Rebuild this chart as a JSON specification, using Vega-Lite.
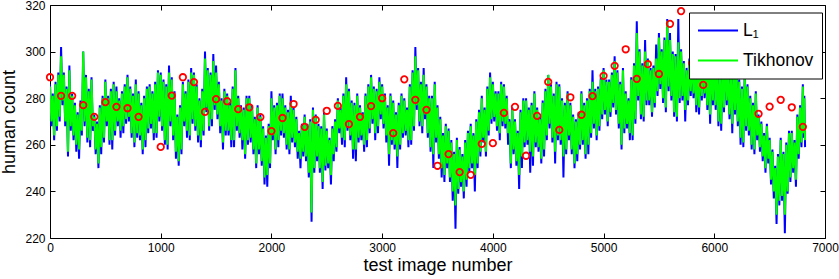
{
"$schema": "https://vega.github.io/schema/vega-lite/v6.json",
"autosize": "none",
"width": 775,
"height": 233,
"padding": {"left": 50, "top": 5, "right": 14, "bottom": 41},
"background": "white",
"config": {
  "font": "Liberation Sans",
  "view": {"stroke": "black", "strokeWidth": 1},
  "axis": {"grid": false, "domain": false, "domainColor": "black", "tickColor": "black", "labelColor": "black", "titleColor": "black", "labelFont": "Liberation Sans", "titleFont": "Liberation Sans", "labelFontSize": 12, "titleFontSize": 18, "titleFontWeight": "normal", "format": "d"}
},
"datasets": {
"series": [
{"x":0,"a":286,"b":285},{"x":12.5,"a":268,"b":270},{"x":25,"a":282,"b":281},{"x":37.5,"a":262,"b":264},
{"x":50,"a":287,"b":286},{"x":62.5,"a":266,"b":268},{"x":75,"a":291,"b":290},{"x":87.5,"a":270,"b":272},
{"x":100,"a":302,"b":298},{"x":112.5,"a":277,"b":279},{"x":125,"a":291,"b":290},{"x":137.5,"a":268,"b":270},
{"x":150,"a":285,"b":284},{"x":162.5,"a":255,"b":257},{"x":175,"a":294,"b":292},{"x":187.5,"a":266,"b":268},
{"x":200,"a":282,"b":281},{"x":212.5,"a":262,"b":264},{"x":225,"a":278,"b":277},{"x":237.5,"a":257,"b":260},
{"x":250,"a":274,"b":273},{"x":262.5,"a":254,"b":258},{"x":275,"a":279,"b":278},{"x":287.5,"a":264,"b":266},
{"x":300,"a":300,"b":300},{"x":312.5,"a":268,"b":270},{"x":325,"a":290,"b":289},{"x":337.5,"a":261,"b":263},
{"x":350,"a":284,"b":283},{"x":362.5,"a":259,"b":262},{"x":375,"a":289,"b":288},{"x":387.5,"a":266,"b":268},
{"x":400,"a":273,"b":272},{"x":412.5,"a":256,"b":258},{"x":425,"a":270,"b":269},{"x":437.5,"a":250,"b":252},
{"x":450,"a":277,"b":276},{"x":462.5,"a":256,"b":259},{"x":475,"a":281,"b":280},{"x":487.5,"a":261,"b":263},
{"x":500,"a":288,"b":287},{"x":512.5,"a":268,"b":270},{"x":525,"a":281,"b":280},{"x":537.5,"a":260,"b":262},
{"x":550,"a":284,"b":283},{"x":562.5,"a":258,"b":262},{"x":575,"a":287,"b":286},{"x":587.5,"a":264,"b":266},
{"x":600,"a":285,"b":283},{"x":612.5,"a":268,"b":270},{"x":625,"a":280,"b":279},{"x":637.5,"a":263,"b":266},
{"x":650,"a":283,"b":282},{"x":662.5,"a":265,"b":268},{"x":675,"a":286,"b":285},{"x":687.5,"a":269,"b":271},
{"x":700,"a":290,"b":289},{"x":712.5,"a":270,"b":272},{"x":725,"a":285,"b":284},{"x":737.5,"a":263,"b":265},
{"x":750,"a":282,"b":281},{"x":762.5,"a":259,"b":261},{"x":775,"a":288,"b":286},{"x":787.5,"a":263,"b":265},
{"x":800,"a":283,"b":282},{"x":812.5,"a":262,"b":264},{"x":825,"a":278,"b":277},{"x":837.5,"a":256,"b":258},
{"x":850,"a":281,"b":280},{"x":862.5,"a":259,"b":262},{"x":875,"a":285,"b":284},{"x":887.5,"a":265,"b":267},
{"x":900,"a":286,"b":285},{"x":912.5,"a":267,"b":269},{"x":925,"a":283,"b":282},{"x":937.5,"a":262,"b":265},
{"x":950,"a":287,"b":286},{"x":962.5,"a":263,"b":265},{"x":975,"a":292,"b":291},{"x":987.5,"a":270,"b":272},
{"x":1000,"a":291,"b":290},{"x":1012.5,"a":266,"b":268},{"x":1025,"a":288,"b":287},{"x":1037.5,"a":260,"b":262},
{"x":1050,"a":286,"b":285},{"x":1062.5,"a":258,"b":260},{"x":1075,"a":294,"b":291},{"x":1087.5,"a":268,"b":270},
{"x":1100,"a":289,"b":288},{"x":1112.5,"a":262,"b":264},{"x":1125,"a":283,"b":282},{"x":1137.5,"a":254,"b":257},
{"x":1150,"a":273,"b":272},{"x":1162.5,"a":251,"b":253},{"x":1175,"a":277,"b":276},{"x":1187.5,"a":256,"b":258},
{"x":1200,"a":287,"b":286},{"x":1212.5,"a":268,"b":270},{"x":1225,"a":283,"b":282},{"x":1237.5,"a":263,"b":266},
{"x":1250,"a":288,"b":287},{"x":1262.5,"a":262,"b":264},{"x":1275,"a":293,"b":291},{"x":1287.5,"a":269,"b":271},
{"x":1300,"a":291,"b":290},{"x":1312.5,"a":266,"b":268},{"x":1325,"a":286,"b":285},{"x":1337.5,"a":261,"b":264},
{"x":1350,"a":280,"b":279},{"x":1362.5,"a":259,"b":262},{"x":1375,"a":284,"b":283},{"x":1387.5,"a":264,"b":266},
{"x":1400,"a":300,"b":297},{"x":1412.5,"a":274,"b":276},{"x":1425,"a":293,"b":292},{"x":1437.5,"a":266,"b":268},
{"x":1450,"a":291,"b":290},{"x":1462.5,"a":268,"b":271},{"x":1475,"a":299,"b":296},{"x":1487.5,"a":275,"b":277},
{"x":1500,"a":294,"b":291},{"x":1512.5,"a":271,"b":273},{"x":1525,"a":287,"b":286},{"x":1537.5,"a":265,"b":268},
{"x":1550,"a":280,"b":279},{"x":1562.5,"a":258,"b":261},{"x":1575,"a":284,"b":283},{"x":1587.5,"a":264,"b":266},
{"x":1600,"a":282,"b":281},{"x":1612.5,"a":264,"b":266},{"x":1625,"a":278,"b":277},{"x":1637.5,"a":259,"b":262},
{"x":1650,"a":285,"b":284},{"x":1662.5,"a":259,"b":262},{"x":1675,"a":293,"b":292},{"x":1687.5,"a":266,"b":268},
{"x":1700,"a":281,"b":280},{"x":1712.5,"a":263,"b":265},{"x":1725,"a":277,"b":276},{"x":1737.5,"a":258,"b":262},
{"x":1750,"a":276,"b":275},{"x":1762.5,"a":254,"b":256},{"x":1775,"a":281,"b":280},{"x":1787.5,"a":260,"b":262},
{"x":1800,"a":281,"b":280},{"x":1812.5,"a":261,"b":263},{"x":1825,"a":277,"b":276},{"x":1837.5,"a":256,"b":258},
{"x":1850,"a":272,"b":271},{"x":1862.5,"a":250,"b":252},{"x":1875,"a":277,"b":276},{"x":1887.5,"a":256,"b":258},
{"x":1900,"a":273,"b":272},{"x":1912.5,"a":251,"b":253},{"x":1925,"a":268,"b":267},{"x":1937.5,"a":243,"b":246},
{"x":1950,"a":264,"b":263},{"x":1962.5,"a":242,"b":247},{"x":1975,"a":269,"b":268},{"x":1987.5,"a":250,"b":252},
{"x":2000,"a":283,"b":280},{"x":2012.5,"a":262,"b":264},{"x":2025,"a":277,"b":276},{"x":2037.5,"a":256,"b":258},
{"x":2050,"a":278,"b":277},{"x":2062.5,"a":259,"b":262},{"x":2075,"a":282,"b":281},{"x":2087.5,"a":264,"b":266},
{"x":2100,"a":282,"b":280},{"x":2112.5,"a":263,"b":265},{"x":2125,"a":277,"b":276},{"x":2137.5,"a":258,"b":260},
{"x":2150,"a":275,"b":274},{"x":2162.5,"a":256,"b":258},{"x":2175,"a":281,"b":278},{"x":2187.5,"a":261,"b":263},
{"x":2200,"a":276,"b":275},{"x":2212.5,"a":259,"b":261},{"x":2225,"a":272,"b":271},{"x":2237.5,"a":254,"b":257},
{"x":2250,"a":266,"b":265},{"x":2262.5,"a":250,"b":254},{"x":2275,"a":269,"b":268},{"x":2287.5,"a":255,"b":257},
{"x":2300,"a":273,"b":272},{"x":2312.5,"a":253,"b":255},{"x":2325,"a":269,"b":268},{"x":2337.5,"a":246,"b":248},
{"x":2350,"a":271,"b":270},{"x":2362.5,"a":227,"b":231},{"x":2375,"a":276,"b":275},{"x":2387.5,"a":248,"b":250},
{"x":2400,"a":273,"b":272},{"x":2412.5,"a":253,"b":255},{"x":2425,"a":269,"b":268},{"x":2437.5,"a":248,"b":250},
{"x":2450,"a":268,"b":267},{"x":2462.5,"a":241,"b":244},{"x":2475,"a":274,"b":273},{"x":2487.5,"a":249,"b":251},
{"x":2500,"a":267,"b":266},{"x":2512.5,"a":250,"b":252},{"x":2525,"a":263,"b":262},{"x":2537.5,"a":243,"b":247},
{"x":2550,"a":268,"b":267},{"x":2562.5,"a":253,"b":256},{"x":2575,"a":271,"b":270},{"x":2587.5,"a":257,"b":259},
{"x":2600,"a":280,"b":279},{"x":2612.5,"a":265,"b":267},{"x":2625,"a":276,"b":275},{"x":2637.5,"a":260,"b":263},
{"x":2650,"a":282,"b":281},{"x":2662.5,"a":259,"b":262},{"x":2675,"a":289,"b":286},{"x":2687.5,"a":266,"b":268},
{"x":2700,"a":284,"b":283},{"x":2712.5,"a":262,"b":264},{"x":2725,"a":279,"b":278},{"x":2737.5,"a":254,"b":258},
{"x":2750,"a":278,"b":277},{"x":2762.5,"a":253,"b":258},{"x":2775,"a":282,"b":281},{"x":2787.5,"a":261,"b":263},
{"x":2800,"a":277,"b":276},{"x":2812.5,"a":262,"b":264},{"x":2825,"a":274,"b":273},{"x":2837.5,"a":257,"b":260},
{"x":2850,"a":282,"b":281},{"x":2862.5,"a":259,"b":262},{"x":2875,"a":286,"b":285},{"x":2887.5,"a":265,"b":267},
{"x":2900,"a":290,"b":289},{"x":2912.5,"a":269,"b":271},{"x":2925,"a":285,"b":284},{"x":2937.5,"a":262,"b":265},
{"x":2950,"a":284,"b":283},{"x":2962.5,"a":265,"b":268},{"x":2975,"a":289,"b":287},{"x":2987.5,"a":271,"b":273},
{"x":3000,"a":286,"b":285},{"x":3012.5,"a":267,"b":269},{"x":3025,"a":282,"b":281},{"x":3037.5,"a":261,"b":264},
{"x":3050,"a":277,"b":276},{"x":3062.5,"a":251,"b":256},{"x":3075,"a":282,"b":281},{"x":3087.5,"a":260,"b":262},
{"x":3100,"a":279,"b":278},{"x":3112.5,"a":258,"b":260},{"x":3125,"a":274,"b":273},{"x":3137.5,"a":250,"b":255},
{"x":3150,"a":278,"b":277},{"x":3162.5,"a":258,"b":260},{"x":3175,"a":282,"b":281},{"x":3187.5,"a":263,"b":265},
{"x":3200,"a":280,"b":279},{"x":3212.5,"a":264,"b":266},{"x":3225,"a":276,"b":275},{"x":3237.5,"a":259,"b":262},
{"x":3250,"a":286,"b":285},{"x":3262.5,"a":260,"b":262},{"x":3275,"a":292,"b":291},{"x":3287.5,"a":266,"b":268},
{"x":3300,"a":302,"b":298},{"x":3312.5,"a":275,"b":277},{"x":3325,"a":293,"b":292},{"x":3337.5,"a":268,"b":270},
{"x":3350,"a":287,"b":286},{"x":3362.5,"a":265,"b":268},{"x":3375,"a":293,"b":290},{"x":3387.5,"a":271,"b":273},
{"x":3400,"a":286,"b":285},{"x":3412.5,"a":263,"b":265},{"x":3425,"a":281,"b":280},{"x":3437.5,"a":257,"b":259},
{"x":3450,"a":281,"b":280},{"x":3462.5,"a":250,"b":256},{"x":3475,"a":287,"b":286},{"x":3487.5,"a":261,"b":263},
{"x":3500,"a":277,"b":276},{"x":3512.5,"a":254,"b":256},{"x":3525,"a":272,"b":271},{"x":3537.5,"a":246,"b":250},
{"x":3550,"a":265,"b":264},{"x":3562.5,"a":244,"b":247},{"x":3575,"a":269,"b":268},{"x":3587.5,"a":250,"b":252},
{"x":3600,"a":267,"b":266},{"x":3612.5,"a":244,"b":246},{"x":3625,"a":262,"b":261},{"x":3637.5,"a":236,"b":240},
{"x":3650,"a":257,"b":256},{"x":3662.5,"a":224,"b":234},{"x":3675,"a":263,"b":262},{"x":3687.5,"a":239,"b":241},
{"x":3700,"a":259,"b":258},{"x":3712.5,"a":242,"b":244},{"x":3725,"a":256,"b":255},{"x":3737.5,"a":237,"b":240},
{"x":3750,"a":262,"b":261},{"x":3762.5,"a":242,"b":245},{"x":3775,"a":266,"b":265},{"x":3787.5,"a":248,"b":250},
{"x":3800,"a":269,"b":268},{"x":3812.5,"a":250,"b":252},{"x":3825,"a":265,"b":264},{"x":3837.5,"a":240,"b":247},
{"x":3850,"a":271,"b":270},{"x":3862.5,"a":250,"b":252},{"x":3875,"a":275,"b":274},{"x":3887.5,"a":255,"b":257},
{"x":3900,"a":281,"b":280},{"x":3912.5,"a":261,"b":263},{"x":3925,"a":276,"b":275},{"x":3937.5,"a":255,"b":257},
{"x":3950,"a":285,"b":284},{"x":3962.5,"a":264,"b":266},{"x":3975,"a":291,"b":289},{"x":3987.5,"a":269,"b":271},
{"x":4000,"a":287,"b":286},{"x":4012.5,"a":270,"b":272},{"x":4025,"a":283,"b":282},{"x":4037.5,"a":266,"b":268},
{"x":4050,"a":283,"b":282},{"x":4062.5,"a":262,"b":265},{"x":4075,"a":287,"b":286},{"x":4087.5,"a":268,"b":270},
{"x":4100,"a":286,"b":285},{"x":4112.5,"a":267,"b":269},{"x":4125,"a":281,"b":280},{"x":4137.5,"a":260,"b":265},
{"x":4150,"a":271,"b":270},{"x":4162.5,"a":250,"b":252},{"x":4175,"a":276,"b":275},{"x":4187.5,"a":256,"b":258},
{"x":4200,"a":271,"b":270},{"x":4212.5,"a":251,"b":253},{"x":4225,"a":266,"b":265},{"x":4237.5,"a":241,"b":247},
{"x":4250,"a":275,"b":274},{"x":4262.5,"a":250,"b":255},{"x":4275,"a":280,"b":279},{"x":4287.5,"a":259,"b":261},
{"x":4300,"a":280,"b":279},{"x":4312.5,"a":260,"b":262},{"x":4325,"a":276,"b":275},{"x":4337.5,"a":248,"b":257},
{"x":4350,"a":278,"b":277},{"x":4362.5,"a":251,"b":255},{"x":4375,"a":283,"b":282},{"x":4387.5,"a":259,"b":261},
{"x":4400,"a":276,"b":275},{"x":4412.5,"a":257,"b":259},{"x":4425,"a":272,"b":271},{"x":4437.5,"a":252,"b":254},
{"x":4450,"a":279,"b":278},{"x":4462.5,"a":255,"b":258},{"x":4475,"a":284,"b":283},{"x":4487.5,"a":262,"b":264},
{"x":4500,"a":290,"b":290},{"x":4512.5,"a":267,"b":269},{"x":4525,"a":286,"b":285},{"x":4537.5,"a":261,"b":263},
{"x":4550,"a":282,"b":281},{"x":4562.5,"a":252,"b":257},{"x":4575,"a":287,"b":286},{"x":4587.5,"a":262,"b":264},
{"x":4600,"a":286,"b":285},{"x":4612.5,"a":260,"b":262},{"x":4625,"a":280,"b":279},{"x":4637.5,"a":246,"b":255},
{"x":4650,"a":278,"b":277},{"x":4662.5,"a":256,"b":258},{"x":4675,"a":283,"b":282},{"x":4687.5,"a":262,"b":264},
{"x":4700,"a":278,"b":277},{"x":4712.5,"a":256,"b":258},{"x":4725,"a":273,"b":272},{"x":4737.5,"a":250,"b":252},
{"x":4750,"a":271,"b":270},{"x":4762.5,"a":253,"b":256},{"x":4775,"a":274,"b":273},{"x":4787.5,"a":258,"b":260},
{"x":4800,"a":283,"b":282},{"x":4812.5,"a":260,"b":262},{"x":4825,"a":278,"b":277},{"x":4837.5,"a":254,"b":256},
{"x":4850,"a":280,"b":279},{"x":4862.5,"a":256,"b":260},{"x":4875,"a":284,"b":283},{"x":4887.5,"a":263,"b":265},
{"x":4900,"a":292,"b":287},{"x":4912.5,"a":267,"b":269},{"x":4925,"a":284,"b":283},{"x":4937.5,"a":262,"b":264},
{"x":4950,"a":285,"b":284},{"x":4962.5,"a":266,"b":268},{"x":4975,"a":289,"b":288},{"x":4987.5,"a":271,"b":273},
{"x":5000,"a":293,"b":292},{"x":5012.5,"a":273,"b":275},{"x":5025,"a":288,"b":287},{"x":5037.5,"a":268,"b":270},
{"x":5050,"a":288,"b":287},{"x":5062.5,"a":272,"b":274},{"x":5075,"a":291,"b":290},{"x":5087.5,"a":276,"b":278},
{"x":5100,"a":298,"b":296},{"x":5112.5,"a":273,"b":275},{"x":5125,"a":292,"b":291},{"x":5137.5,"a":267,"b":269},
{"x":5150,"a":287,"b":286},{"x":5162.5,"a":258,"b":260},{"x":5175,"a":293,"b":292},{"x":5187.5,"a":265,"b":267},
{"x":5200,"a":283,"b":282},{"x":5212.5,"a":267,"b":269},{"x":5225,"a":280,"b":279},{"x":5237.5,"a":262,"b":265},
{"x":5250,"a":289,"b":288},{"x":5262.5,"a":262,"b":264},{"x":5275,"a":295,"b":294},{"x":5287.5,"a":269,"b":271},
{"x":5300,"a":313,"b":308},{"x":5312.5,"a":279,"b":281},{"x":5325,"a":301,"b":300},{"x":5337.5,"a":271,"b":273},
{"x":5350,"a":295,"b":294},{"x":5362.5,"a":270,"b":272},{"x":5375,"a":305,"b":300},{"x":5387.5,"a":277,"b":279},
{"x":5400,"a":297,"b":296},{"x":5412.5,"a":277,"b":279},{"x":5425,"a":293,"b":292},{"x":5437.5,"a":272,"b":274},
{"x":5450,"a":294,"b":293},{"x":5462.5,"a":276,"b":278},{"x":5475,"a":303,"b":297},{"x":5487.5,"a":281,"b":283},
{"x":5500,"a":308,"b":306},{"x":5512.5,"a":284,"b":286},{"x":5525,"a":301,"b":300},{"x":5537.5,"a":278,"b":280},
{"x":5550,"a":306,"b":305},{"x":5562.5,"a":274,"b":276},{"x":5575,"a":314,"b":313},{"x":5587.5,"a":283,"b":285},
{"x":5600,"a":308,"b":305},{"x":5612.5,"a":279,"b":281},{"x":5625,"a":300,"b":299},{"x":5637.5,"a":272,"b":274},
{"x":5650,"a":299,"b":298},{"x":5662.5,"a":270,"b":272},{"x":5675,"a":314,"b":304},{"x":5687.5,"a":278,"b":280},
{"x":5700,"a":301,"b":300},{"x":5712.5,"a":279,"b":281},{"x":5725,"a":296,"b":295},{"x":5737.5,"a":270,"b":275},
{"x":5750,"a":293,"b":292},{"x":5762.5,"a":277,"b":279},{"x":5775,"a":297,"b":296},{"x":5787.5,"a":281,"b":283},
{"x":5800,"a":299,"b":298},{"x":5812.5,"a":280,"b":282},{"x":5825,"a":294,"b":293},{"x":5837.5,"a":274,"b":277},
{"x":5850,"a":292,"b":291},{"x":5862.5,"a":273,"b":276},{"x":5875,"a":297,"b":296},{"x":5887.5,"a":279,"b":281},
{"x":5900,"a":299,"b":298},{"x":5912.5,"a":280,"b":282},{"x":5925,"a":294,"b":293},{"x":5937.5,"a":275,"b":277},
{"x":5950,"a":293,"b":292},{"x":5962.5,"a":269,"b":273},{"x":5975,"a":298,"b":297},{"x":5987.5,"a":277,"b":279},
{"x":6000,"a":300,"b":299},{"x":6012.5,"a":275,"b":277},{"x":6025,"a":294,"b":293},{"x":6037.5,"a":268,"b":270},
{"x":6050,"a":291,"b":290},{"x":6062.5,"a":266,"b":269},{"x":6075,"a":297,"b":296},{"x":6087.5,"a":274,"b":276},
{"x":6100,"a":299,"b":298},{"x":6112.5,"a":277,"b":279},{"x":6125,"a":294,"b":293},{"x":6137.5,"a":271,"b":273},
{"x":6150,"a":290,"b":289},{"x":6162.5,"a":265,"b":269},{"x":6175,"a":296,"b":295},{"x":6187.5,"a":273,"b":275},
{"x":6200,"a":294,"b":293},{"x":6212.5,"a":268,"b":270},{"x":6225,"a":288,"b":287},{"x":6237.5,"a":260,"b":263},
{"x":6250,"a":285,"b":284},{"x":6262.5,"a":259,"b":261},{"x":6275,"a":291,"b":290},{"x":6287.5,"a":266,"b":268},
{"x":6300,"a":286,"b":285},{"x":6312.5,"a":264,"b":266},{"x":6325,"a":281,"b":280},{"x":6337.5,"a":258,"b":260},
{"x":6350,"a":278,"b":277},{"x":6362.5,"a":256,"b":258},{"x":6375,"a":283,"b":282},{"x":6387.5,"a":262,"b":264},
{"x":6400,"a":273,"b":272},{"x":6412.5,"a":257,"b":259},{"x":6425,"a":270,"b":269},{"x":6437.5,"a":253,"b":255},
{"x":6450,"a":265,"b":264},{"x":6462.5,"a":248,"b":250},{"x":6475,"a":269,"b":268},{"x":6487.5,"a":252,"b":254},
{"x":6500,"a":263,"b":262},{"x":6512.5,"a":243,"b":245},{"x":6525,"a":258,"b":257},{"x":6537.5,"a":237,"b":240},
{"x":6550,"a":251,"b":250},{"x":6562.5,"a":226,"b":230},{"x":6575,"a":256,"b":255},{"x":6587.5,"a":234,"b":236},
{"x":6600,"a":263,"b":262},{"x":6612.5,"a":236,"b":238},{"x":6625,"a":257,"b":256},{"x":6637.5,"a":222,"b":230},
{"x":6650,"a":261,"b":260},{"x":6662.5,"a":239,"b":240},{"x":6675,"a":266,"b":265},{"x":6687.5,"a":244,"b":246},
{"x":6700,"a":266,"b":265},{"x":6712.5,"a":248,"b":250},{"x":6725,"a":262,"b":261},{"x":6737.5,"a":242,"b":245},
{"x":6750,"a":273,"b":272},{"x":6762.5,"a":254,"b":256},{"x":6775,"a":277,"b":276},{"x":6787.5,"a":259,"b":261},
{"x":6800,"a":286,"b":285},{"x":6807,"a":263,"b":265},{"x":6813,"a":281,"b":280},{"x":6820,"a":259,"b":262}
],
"truth": [
{"x":0,"y":289},{"x":100,"y":281},{"x":200,"y":281},{"x":300,"y":277},{"x":400,"y":272},{"x":500,"y":278.3},
{"x":600,"y":276.3},{"x":700,"y":275.7},{"x":800,"y":272},{"x":1000,"y":259.1},{"x":1100,"y":281.1},
{"x":1200,"y":289},{"x":1300,"y":286.9},{"x":1400,"y":274.1},{"x":1500,"y":279.6},{"x":1600,"y":278.7},
{"x":1700,"y":275.3},{"x":1800,"y":276.1},{"x":1900,"y":271.9},{"x":2000,"y":265.9},{"x":2100,"y":271.5},
{"x":2200,"y":277.5},{"x":2300,"y":267.7},{"x":2400,"y":270.7},{"x":2500,"y":274.6},{"x":2600,"y":276.7},
{"x":2700,"y":268.9},{"x":2800,"y":272},{"x":2900,"y":276.6},{"x":3000,"y":280},{"x":3100,"y":265},
{"x":3200,"y":288.1},{"x":3300,"y":279.3},{"x":3400,"y":275},{"x":3500,"y":251},{"x":3600,"y":256},
{"x":3700,"y":248.3},{"x":3800,"y":247.1},{"x":3900,"y":260.4},{"x":4000,"y":260.7},{"x":4100,"y":273.7},
{"x":4200,"y":276.3},{"x":4300,"y":255.3},{"x":4400,"y":272.4},{"x":4500,"y":287},{"x":4600,"y":266.4},
{"x":4700,"y":280.4},{"x":4800,"y":272.9},{"x":4900,"y":280.9},{"x":5000,"y":289.6},{"x":5100,"y":293.9},
{"x":5200,"y":301},{"x":5300,"y":288.3},{"x":5400,"y":294.6},{"x":5500,"y":290.4},{"x":5600,"y":311.9},
{"x":5700,"y":317.4},{"x":5800,"y":295},{"x":5900,"y":285.7},{"x":6000,"y":297},{"x":6100,"y":300},
{"x":6200,"y":296},{"x":6300,"y":293},{"x":6400,"y":273.3},{"x":6500,"y":276.4},{"x":6600,"y":279.3},
{"x":6700,"y":276.1},{"x":6800,"y":267.7}
]
},
"layer": [
{
  "data": {"name": "series"},
  "transform": [{"fold": ["a", "b"], "as": ["s", "v"]}],
  "mark": {"type": "line", "strokeWidth": 2, "clip": true},
  "encoding": {
    "x": {"field": "x", "type": "quantitative", "scale": {"domain": [0, 7000], "nice": false, "zero": false},
          "axis": {"orient": "bottom", "values": [0,1000,2000,3000,4000,5000,6000,7000], "tickSize": -5, "labelPadding": 9, "title": "test image number", "titlePadding": 3, "labelFlush": false}},
    "y": {"field": "v", "type": "quantitative", "scale": {"domain": [220, 320], "nice": false, "zero": false},
          "axis": {"orient": "left", "values": [220,240,260,280,300,320], "tickSize": -5, "labelPadding": 10, "title": "human count", "titlePadding": 6}},
    "color": {"field": "s", "type": "nominal", "scale": {"domain": ["a", "b"], "range": ["#0000ff", "#00ff00"]},
              "legend": {"orient": "none", "legendX": 639, "legendY": 7.5, "title": null, "labelExpr": "datum.label === 'a' ? 'L₁' : 'Tikhonov'",
                         "symbolType": "stroke", "symbolSize": 1600, "symbolStrokeWidth": 2, "clipHeight": 20, "labelFontSize": 17.5, "labelFont": "Liberation Sans", "labelColor": "black",
                         "labelOffset": 4, "rowPadding": 10, "padding": 8, "strokeColor": "black", "fillColor": "white", "cornerRadius": 0}}
  }
},
{
  "data": {"name": "truth"},
  "mark": {"type": "point", "shape": "circle", "filled": false, "color": "#ff0000", "size": 42, "strokeWidth": 1.8, "opacity": 1},
  "encoding": {
    "x": {"field": "x", "type": "quantitative", "axis": {"orient": "top", "values": [0,1000,2000,3000,4000,5000,6000,7000], "labels": false, "title": null, "tickSize": -5}},
    "y": {"field": "y", "type": "quantitative", "axis": {"orient": "right", "values": [220,240,260,280,300,320], "labels": false, "title": null, "tickSize": -5}}
  }
}
],
"resolve": {"axis": {"x": "independent", "y": "independent"}}
}
